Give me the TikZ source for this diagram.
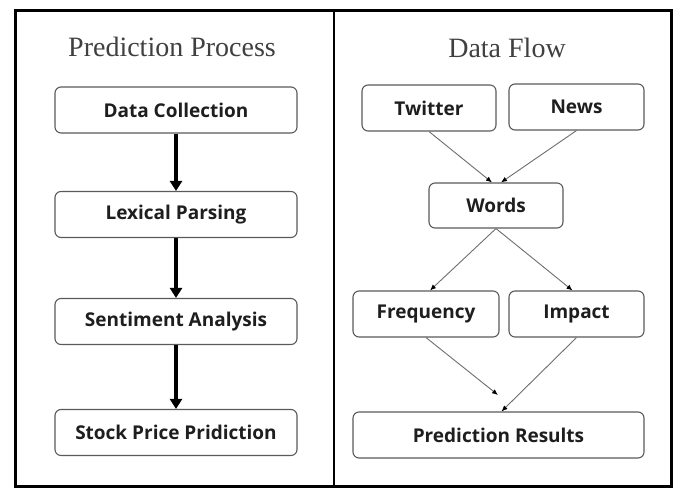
\documentclass[tikz,border=0pt]{standalone}
\usepackage{fontspec}
\setmainfont{Liberation Serif}
\newfontfamily\boxfont{Open Sans}
\usetikzlibrary{arrows.meta}
\definecolor{boxline}{HTML}{5A5A5A}
\definecolor{txt}{HTML}{1E1E1E}
\definecolor{thinline}{HTML}{6E6E6E}
\definecolor{titlecol}{HTML}{404040}
\tikzset{
  procbox/.style={draw=boxline, line width=1.1pt, rounded corners=6pt, fill=white,
    inner sep=0pt, text=txt, font=\boxfont\bfseries\fontsize{19}{22}\selectfont},
  paneltitle/.style={font=\fontsize{28}{32}\selectfont, text=titlecol, inner sep=0pt},
  thickarrow/.style={line width=3.2pt, -{Triangle[length=10pt,width=12pt]}},
  thinarrow/.style={draw=thinline, line width=0.9pt, -{Latex[length=6pt,width=5pt,color=black]}}
}
\begin{document}
\begin{tikzpicture}[x=1pt,y=-1pt]
\useasboundingbox (0,0) rectangle (676,487);
\fill[white] (0,0) rectangle (676,487);
% frame
\draw[line width=3pt] (15,11) rectangle (671,486);
\draw[line width=2.2pt] (334,11) -- (334,486);
% titles
\node[paneltitle] (t1) at (172,47) {Prediction Process};
\node[paneltitle] (t2) at (507,48) {Data Flow};
% left boxes
\node[procbox, minimum width=242pt, minimum height=46pt] (dc) at (176,110) {Data Collection};
\node[procbox, minimum width=242pt, minimum height=46pt] (lp) at (176,214.5) {Lexical Parsing};
\node[procbox, minimum width=242pt, minimum height=46pt] (sa) at (176,321.5) {Sentiment Analysis};
\node[procbox, minimum width=242pt, minimum height=46pt] (sp) at (176,432.5) {Stock Price Pridiction};
\draw[thickarrow] (dc.south) -- (lp.north);
\draw[thickarrow] (lp.south) -- (sa.north);
\draw[thickarrow] (sa.south) -- (sp.north);
% right boxes
\node[procbox, minimum width=134pt, minimum height=46pt] (tw) at (429,108) {Twitter};
\node[procbox, minimum width=135pt, minimum height=46pt] (nw) at (576.5,107) {News};
\node[procbox, minimum width=134pt, minimum height=45pt] (wd) at (496,205.5) {Words};
\node[procbox, minimum width=146pt, minimum height=46pt] (fq) at (426,314) {Frequency};
\node[procbox, minimum width=135pt, minimum height=46pt] (im) at (576.5,314) {Impact};
\node[procbox, minimum width=291pt, minimum height=46pt] (pr) at (498.5,435) {Prediction Results};
\coordinate (fqend) at (498,395);
\draw[thinarrow] (tw.south) -- ([xshift=-4pt]wd.north);
\draw[thinarrow] (nw.south) -- ([xshift=5pt]wd.north);
\draw[thinarrow] (wd.south) -- ([xshift=4pt]fq.north);
\draw[thinarrow] (wd.south) -- ([xshift=-4pt]im.north);
\draw[thinarrow] (fq.south) -- (fqend);
\draw[thinarrow] (im.south) -- ([xshift=3pt]pr.north);
\end{tikzpicture}
\end{document}
